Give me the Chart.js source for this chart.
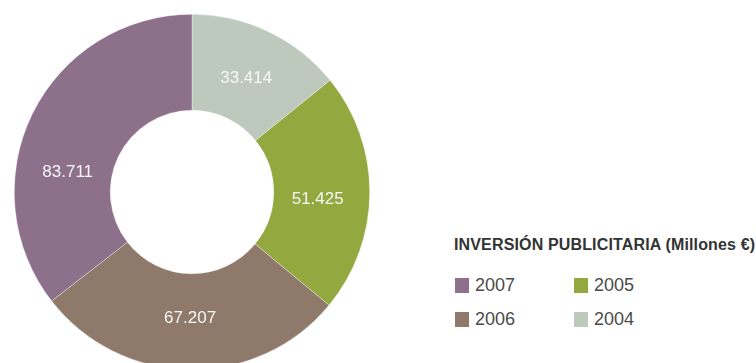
<!DOCTYPE html>
<html>
<head>
<meta charset="utf-8">
<script src="https://cdn.jsdelivr.net/npm/chart.js@4.4.1/dist/chart.umd.min.js"></script>
<style>
  html, body { margin: 0; padding: 0; width: 756px; height: 363px; overflow: hidden; background: #fff; }
  #wrap { position: absolute; left: 14px; top: 14px; width: 356px; height: 356px; }
  #legend { position: absolute; left: 0; top: 0; font-family: "Liberation Sans", Arial, sans-serif; color: #333; }
  #legend .title { position: absolute; left: 454px; top: 236px; font-size: 16px; font-weight: bold; white-space: nowrap; letter-spacing: 0.15px; }
  #legend .grid { position: absolute; left: 455px; top: 276px; display: grid; grid-template-columns: 119px 120px; row-gap: 15px; }
  #legend .item { display: flex; align-items: center; font-size: 18px; color: #4a4a4a; height: 19px; white-space: nowrap; }
  #legend .sw { width: 14px; height: 15px; margin-right: 6px; flex: none; }
</style>
</head>
<body>
<div id="wrap"><canvas id="c" width="356" height="356"></canvas></div>
<div id="legend">
  <div class="title">INVERSIÓN PUBLICITARIA (Millones €)</div>
  <div class="grid" id="items"></div>
</div>
<script>
// Advertising investment by year (millions of euros), drawn clockwise from 12 o'clock
const years = ['2004', '2005', '2006', '2007'];
const investment = [33.414, 51.425, 67.207, 83.711];
const valueLabels = ['33.414', '51.425', '67.207', '83.711'];
const sliceColors = ['#bdc9bc', '#93a83f', '#8e796b', '#8d7089'];
// Legend reading order: 2007, 2005 / 2006, 2004
const legendOrder = ['2007', '2005', '2006', '2004'];

// Writes each slice's value inside its ring segment, around the slice's mid angle
const sliceValues = {
  id: 'sliceValues',
  afterDatasetsDraw(chart, args, opts) {
    const ctx = chart.ctx;
    const meta = chart.getDatasetMeta(0);
    ctx.save();
    ctx.font = '17px "Liberation Sans", Arial, sans-serif';
    ctx.fillStyle = '#f7f7f7';
    ctx.textAlign = 'center';
    ctx.textBaseline = 'middle';
    meta.data.forEach((arc, i) => {
      const nudge = ((opts.angleNudge || [])[i] || 0) * Math.PI / 180;
      const mid = (arc.startAngle + arc.endAngle) / 2 + nudge;
      const r = arc.innerRadius + (arc.outerRadius - arc.innerRadius) * opts.radiusFraction;
      ctx.fillText(valueLabels[i], arc.x + Math.cos(mid) * r, arc.y + Math.sin(mid) * r);
    });
    ctx.restore();
  }
};

new Chart(document.getElementById('c'), {
  type: 'doughnut',
  data: {
    labels: years,
    datasets: [{
      data: investment,
      backgroundColor: sliceColors,
      borderColor: 'rgba(255,255,255,0.6)',
      borderWidth: 0.6
    }]
  },
  options: {
    responsive: false,
    animation: false,
    cutout: '46%',
    rotation: 0,
    layout: { padding: 0 },
    plugins: {
      legend: { display: false },
      tooltip: { enabled: false },
      sliceValues: { radiusFraction: 0.46, angleNudge: [0, 3, 0, -17] }
    }
  },
  plugins: [sliceValues]
});

const items = document.getElementById('items');
legendOrder.forEach(y => {
  const i = years.indexOf(y);
  const el = document.createElement('div');
  el.className = 'item';
  const sw = document.createElement('span');
  sw.className = 'sw';
  sw.style.background = sliceColors[i];
  el.appendChild(sw);
  el.appendChild(document.createTextNode(y));
  items.appendChild(el);
});
</script>
</body>
</html>
